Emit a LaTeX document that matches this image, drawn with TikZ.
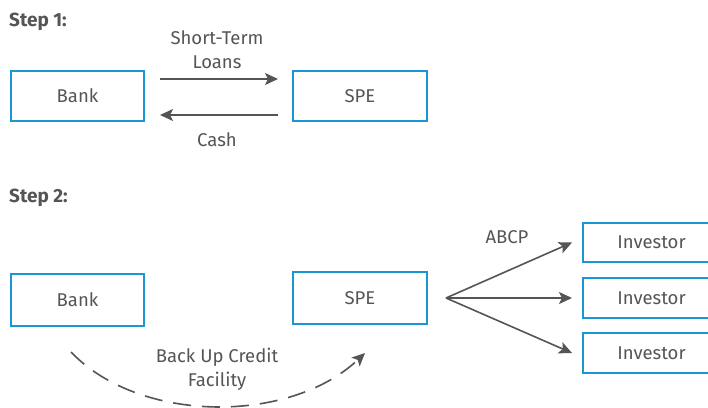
\documentclass[tikz,border=0pt]{standalone}
\usepackage{fontspec}
\setmainfont{Fira Sans}
\usetikzlibrary{arrows.meta}
\definecolor{boxblue}{HTML}{1A96D4}
\definecolor{txtgray}{HTML}{555555}
\begin{document}
\begin{tikzpicture}[x=1pt,y=-1pt,
  every node/.style={text=txtgray,font=\fontsize{18.5}{24}\selectfont},
  box/.style={draw=boxblue,line width=2pt,rectangle,inner sep=0pt},
  lbl/.style={inner sep=0pt,align=center},
  steplbl/.style={inner sep=0pt,anchor=west,font=\fontsize{19}{24}\selectfont\bfseries},
  arr/.style={draw=txtgray,line width=1.6pt,-{Stealth[length=13pt,width=12pt,inset=3pt]}},
  darr/.style={arr,dash pattern=on 18pt off 11pt}]
\useasboundingbox (0,0) rectangle (708,407);
\clip (0,0) rectangle (708,407);
\fill[white] (0,0) rectangle (708,407);
% Step 1
\node[steplbl] (s1) at (9,22) {Step 1:};
\node[box,minimum width=133pt,minimum height=50pt] (bank1) at (77.5,96) {Bank};
\node[box,minimum width=134pt,minimum height=50pt] (spe1) at (360,96) {SPE};
\draw[arr] ([xshift=15pt,yshift=17pt]bank1.east) -- ([xshift=-14pt,yshift=17pt]spe1.west);
\draw[arr] ([xshift=-14pt,yshift=-19pt]spe1.west) -- ([xshift=15pt,yshift=-19pt]bank1.east);
\node[lbl] (stl) at (217,50) {Short-Term\\Loans};
\node[lbl] (cash) at (217,140) {Cash};
% Step 2
\node[steplbl] (s2) at (9,198) {Step 2:};
\node[box,minimum width=133pt,minimum height=52pt] (bank2) at (77.5,300) {Bank};
\node[box,minimum width=134pt,minimum height=52pt] (spe2) at (360,298) {SPE};
\node[box,minimum width=137pt,minimum height=39pt] (inv1) at (651.5,242.5) {Investor};
\node[box,minimum width=137pt,minimum height=40pt] (inv2) at (651.5,298) {Investor};
\node[box,minimum width=137pt,minimum height=40pt] (inv3) at (651.5,353) {Investor};
\coordinate (fan) at ([xshift=18pt]spe2.east);
\draw[arr] (fan) -- ([xshift=-10pt]inv1.west);
\draw[arr] (fan) -- ([xshift=-10pt]inv2.west);
\draw[arr] (fan) -- ([xshift=-10pt]inv3.west);
\node[lbl] (abcp) at (507,237) {ABCP};
\draw[darr] ([xshift=-6.5pt,yshift=-25pt]bank2.south) .. controls (140,424) and (290,424) .. ([xshift=5pt,yshift=-28pt]spe2.south);
\node[lbl] (bucf) at (217,369) {Back Up Credit\\Facility};
\end{tikzpicture}
\end{document}
